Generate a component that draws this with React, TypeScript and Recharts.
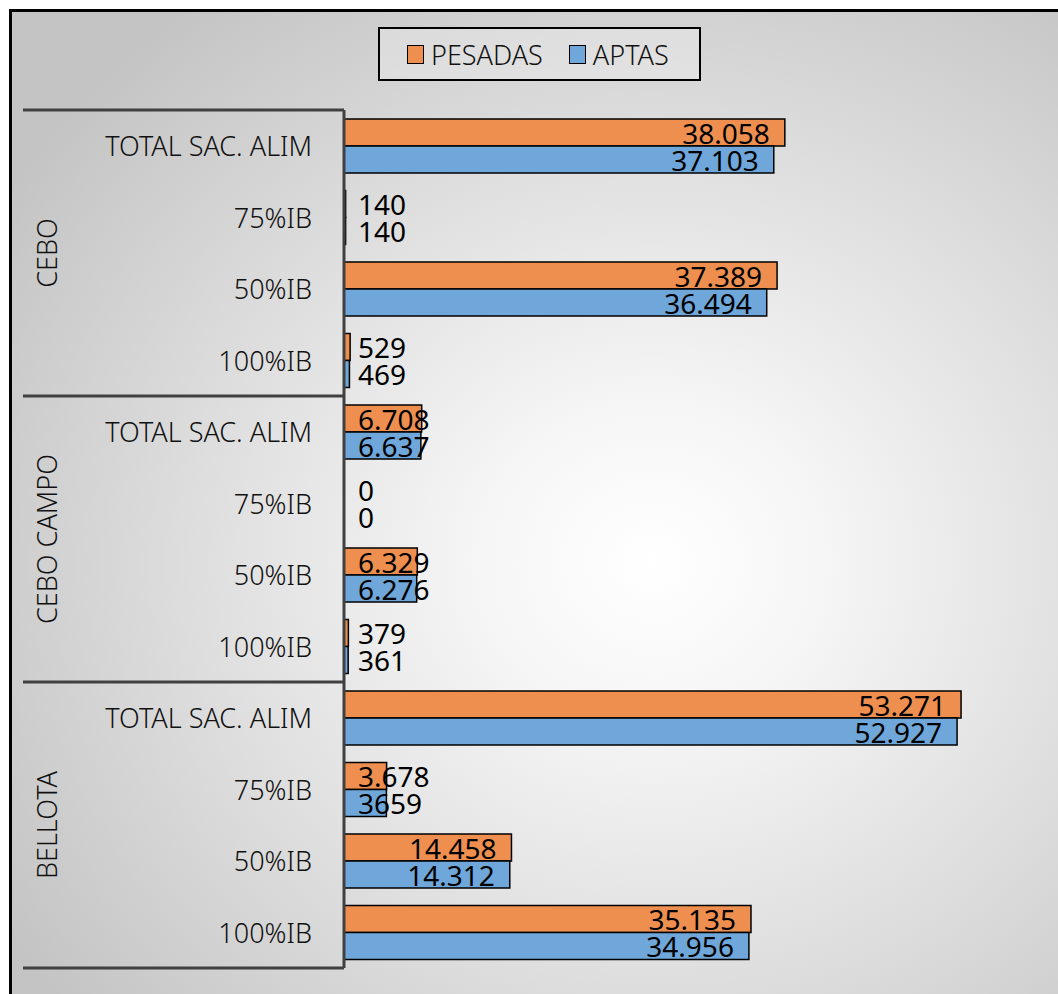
import React from 'react';
import { BarChart, Bar, XAxis, YAxis, Legend, LabelList, Rectangle } from 'recharts';

const GROUPS = ['CEBO', 'CEBO CAMPO', 'BELLOTA'];
const SUBCATEGORIES = ['TOTAL SAC. ALIM', '75%IB', '50%IB', '100%IB'];

const PESADAS = [38058, 140, 37389, 529, 6708, 0, 6329, 379, 53271, 3678, 14458, 35135];
const APTAS = [37103, 140, 36494, 469, 6637, 0, 6276, 361, 52927, 3659, 14312, 34956];

// labels that the source sheet shows without the thousands dot
const LABEL_AS_TYPED: Record<number, string> = { 3659: '3659' };

const ORANGE = '#EE8F50';
const BLUE = '#6FA7DA';
const FONT = '"Noto Sans", "Open Sans", sans-serif';
const TEXT = '#111';

const WIDTH = 1058;
const HEIGHT = 994;
const MARGIN = { top: 110, right: 19, bottom: 26, left: 0 };
const Y_AXIS_WIDTH = 344;
const TICK_MARGIN = 32;
const PLOT_H = HEIGHT - MARGIN.top - MARGIN.bottom;

const data = GROUPS.flatMap((group, g) =>
  SUBCATEGORIES.map((sub, s) => {
    const i = g * SUBCATEGORIES.length + s;
    return { key: `${group}|${sub}`, group, sub, pesadas: PESADAS[i], aptas: APTAS[i] };
  })
);

const BAND = PLOT_H / data.length;

const fmt = (v: number) =>
  LABEL_AS_TYPED[v] ?? String(v).replace(/\B(?=(\d{3})+(?!\d))/g, '.');

// rough text width for 28px Noto Sans digits
const textWidth = (s: string) =>
  s.split('').reduce((w, c) => w + (c === '.' ? 7.5 : 16), 0);

const ValueLabel = (props: any) => {
  const { x, y, width, height, value } = props;
  const text = fmt(Number(value));
  const endX = x + width - 15;
  const startX = x + 14;
  const fits = endX - textWidth(text) >= startX;
  return (
    <text
      x={fits ? endX : startX}
      y={y + height / 2}
      textAnchor={fits ? 'end' : 'start'}
      dominantBaseline="central"
      fontFamily={FONT}
      fontSize={28}
      fill="#000"
    >
      {text}
    </text>
  );
};

// zero values keep a hairline rect so their label is still placed, but draw nothing
const BarShape = (props: any) =>
  props.width < 0.5 ? <g /> : <Rectangle {...props} />;
const keepZero = (value: any) => (Number(value) === 0 ? 0.01 : 0);

const CategoryTick = (props: any) => {
  const { x, y, index } = props;
  const i = index ?? props.payload?.index ?? 0;
  const per = SUBCATEGORIES.length;
  const axisX = x + TICK_MARGIN;
  const sepStyle = { stroke: '#404040', strokeWidth: 3 };
  const gy = y + (per / 2 - 0.5) * BAND;
  return (
    <g>
      <text
        x={x}
        y={y}
        textAnchor="end"
        dominantBaseline="central"
        fontFamily={FONT}
        fontSize={27}
        fontWeight={300}
        fill={TEXT}
      >
        {SUBCATEGORIES[i % per]}
      </text>
      {i % per === 0 && (
        <>
          <line x1={23} x2={axisX} y1={y - BAND / 2} y2={y - BAND / 2} {...sepStyle} />
          <text
            x={46}
            y={gy}
            transform={`rotate(-90 46 ${gy})`}
            textAnchor="middle"
            dominantBaseline="central"
            fontFamily={FONT}
            fontSize={27}
            fontWeight={300}
            fill={TEXT}
          >
            {GROUPS[Math.floor(i / per)]}
          </text>
        </>
      )}
      {i === data.length - 1 && (
        <line x1={23} x2={axisX} y1={y + BAND / 2} y2={y + BAND / 2} {...sepStyle} />
      )}
    </g>
  );
};

const SERIES = [
  { name: 'PESADAS', color: ORANGE },
  { name: 'APTAS', color: BLUE },
];

const renderLegend = () => (
  <div
    style={{
      width: 323,
      height: 54,
      boxSizing: 'border-box',
      border: '2px solid #000',
      background: 'rgba(255,255,255,0.25)',
      display: 'flex',
      alignItems: 'center',
      paddingLeft: 27,
      gap: 26,
      fontFamily: FONT,
      fontSize: 27,
      fontWeight: 300,
      color: TEXT,
    }}
  >
    {SERIES.map((s) => (
      <span key={s.name} style={{ display: 'flex', alignItems: 'center' }}>
        <span
          style={{
            width: 15,
            height: 17,
            background: s.color,
            border: '1.5px solid #000',
            marginRight: 7,
            display: 'inline-block',
          }}
        />
        {s.name}
      </span>
    ))}
  </div>
);

export default function App() {
  return (
    <div
      style={{
        position: 'absolute',
        left: 0,
        top: 0,
        width: WIDTH,
        height: HEIGHT,
        overflow: 'hidden',
        background: '#fff',
      }}
    >
      <div
        style={{
          position: 'absolute',
          left: 9,
          top: 9,
          width: 1200,
          height: 1200,
          borderLeft: '3px solid #000',
          borderTop: '3px solid #000',
          background:
            'radial-gradient(ellipse 760px 700px at 640px 550px, #ffffff 0%, #f6f6f6 22%, #dedede 60%, #c4c4c4 100%)',
        }}
      />
      <div style={{ position: 'absolute', left: 0, top: 0 }}>
        <BarChart
          width={WIDTH}
          height={HEIGHT}
          data={data}
          layout="vertical"
          margin={MARGIN}
          barGap={0}
          barSize={27}
        >
          <XAxis type="number" domain={[0, 60000]} hide />
          <YAxis
            type="category"
            dataKey="key"
            width={Y_AXIS_WIDTH}
            interval={0}
            tickLine={false}
            tickSize={0}
            tickMargin={TICK_MARGIN}
            axisLine={{ stroke: '#404040', strokeWidth: 3 }}
            tick={<CategoryTick />}
          />
          <Legend
            layout="horizontal"
            verticalAlign="middle"
            align="center"
            content={renderLegend}
            wrapperStyle={{ top: 27, left: 378, width: 323, height: 54 }}
          />
          <Bar
            dataKey="pesadas"
            name="PESADAS"
            fill={ORANGE}
            stroke="#000"
            strokeWidth={1.5}
            minPointSize={keepZero}
            shape={<BarShape />}
            isAnimationActive={false}
          >
            <LabelList dataKey="pesadas" content={<ValueLabel />} />
          </Bar>
          <Bar
            dataKey="aptas"
            name="APTAS"
            fill={BLUE}
            stroke="#000"
            strokeWidth={1.5}
            minPointSize={keepZero}
            shape={<BarShape />}
            isAnimationActive={false}
          >
            <LabelList dataKey="aptas" content={<ValueLabel />} />
          </Bar>
        </BarChart>
      </div>
    </div>
  );
}
